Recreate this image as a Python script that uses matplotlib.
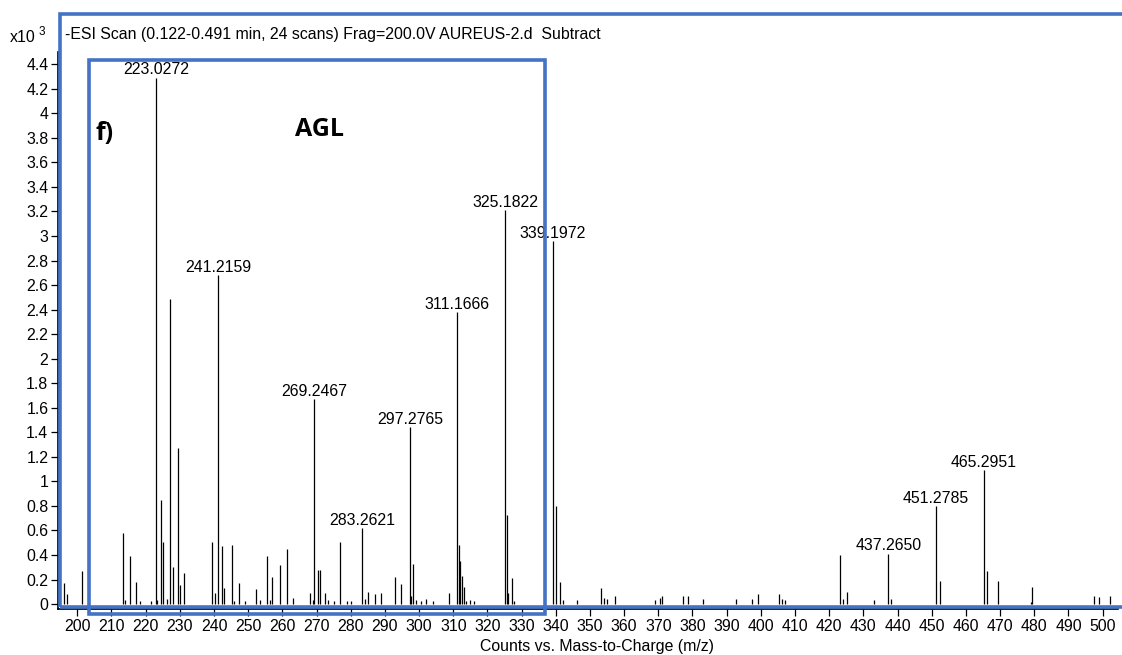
import numpy as np
import matplotlib.pyplot as plt
from matplotlib.patches import Rectangle

plt.rcParams['font.family'] = ['Liberation Sans', 'DejaVu Sans']

# peak list: m/z and abundance (counts x10^3)
mz = [196.1, 196.9, 201.3, 213.3, 214.0, 215.3, 217.1, 218.3, 221.5,
      223.0272, 223.3, 224.4, 225.1, 226.2, 227.2, 228.1, 229.4, 230.1, 231.1,
      239.3, 240.2, 241.2159, 242.2, 242.9, 245.3, 245.9, 247.3, 249.0,
      252.3, 253.4, 255.4, 256.4, 257.1, 259.2, 261.3, 263.0,
      268.0, 268.9, 269.2467, 270.4, 270.9, 272.4, 273.4, 275.1, 277.0, 279.0, 280.0,
      283.2621, 284.3, 285.0, 287.0, 289.0, 293.0, 294.7,
      297.2765, 297.6, 298.1, 299.0, 300.7, 302.0, 304.1, 308.9,
      311.1666, 311.7, 312.1, 312.7, 313.0, 313.7, 314.8, 316.1,
      325.1822, 325.7, 326.1, 327.2, 327.9,
      339.1972, 340.2, 341.2, 342.2, 346.1, 353.2, 354.1, 354.9, 357.2,
      369.1, 370.5, 371.0, 377.1, 378.8, 383.2, 392.8, 397.3, 399.3,
      405.4, 406.2, 407.1, 423.2, 424.1, 425.3, 433.0,
      437.2650, 438.0, 451.2785, 452.3, 465.2951, 466.3, 469.3,
      478.9, 479.2, 497.6, 499.0, 502.3]
abund = [0.17, 0.08, 0.27, 0.58, 0.03, 0.39, 0.18, 0.025, 0.025,
         4.29, 0.03, 0.85, 0.51, 0.04, 2.49, 0.30, 1.27, 0.155, 0.25,
         0.51, 0.09, 2.68, 0.47, 0.13, 0.48, 0.025, 0.17, 0.025,
         0.12, 0.03, 0.39, 0.03, 0.22, 0.32, 0.45, 0.05,
         0.09, 0.03, 1.67, 0.28, 0.28, 0.09, 0.03, 0.025, 0.51, 0.025, 0.025,
         0.62, 0.04, 0.10, 0.08, 0.09, 0.22, 0.16,
         1.44, 0.07, 0.33, 0.03, 0.025, 0.04, 0.025, 0.09,
         2.38, 0.48, 0.35, 0.23, 0.14, 0.025, 0.03, 0.025,
         3.21, 0.73, 0.09, 0.21, 0.025,
         2.96, 0.80, 0.18, 0.035, 0.03, 0.13, 0.05, 0.04, 0.065,
         0.035, 0.05, 0.065, 0.065, 0.065, 0.045, 0.04, 0.045, 0.085,
         0.085, 0.04, 0.035, 0.40, 0.045, 0.10, 0.03,
         0.41, 0.045, 0.80, 0.19, 1.09, 0.27, 0.19,
         0.02, 0.14, 0.065, 0.055, 0.065]

# peaks that carry an m/z label
labelled = [223.0272, 241.2159, 269.2467, 283.2621, 297.2765, 311.1666,
            325.1822, 339.1972, 437.2650, 451.2785, 465.2951]

title = '-ESI Scan (0.122-0.491 min, 24 scans) Frag=200.0V AUREUS-2.d  Subtract'
blue = '#4472C4'
fs = 11.4

W, H = 1122, 655
fig = plt.figure(figsize=(W / 100, H / 100), dpi=100)
ax = fig.add_axes([58 / W, 1 - 609 / H, 1060 / W, 557 / H])

ax.vlines(mz, 0, abund, color='black', lw=0.9)
for m, a in zip(mz, abund):
    if m in labelled:
        ax.annotate(f'{m:.4f}', (m, a), xytext=(0, 0.3), textcoords='offset points',
                    ha='center', va='bottom', fontsize=fs)

ax.set_xlim(194.35, 504.5)
ax.set_ylim(-0.04, 4.5)
ax.set_xticks(np.arange(200, 501, 10))
yt = np.round(np.arange(0, 4.41, 0.2), 1)
ax.set_yticks(yt)
ax.set_yticklabels([f'{v:g}' for v in yt])
ax.tick_params(labelsize=fs, length=5, width=0.9, color='black', pad=2)
for s in ['top', 'right']:
    ax.spines[s].set_visible(False)
for s in ['left', 'bottom']:
    ax.spines[s].set_linewidth(1.2)

fig.text(597 / W, 1 - 647 / H, 'Counts vs. Mass-to-Charge (m/z)', ha='center', va='center',
         fontsize=fs)
fig.text(10 / W, 1 - 37 / H, 'x10', ha='left', va='center', fontsize=fs)
fig.text(39 / W, 1 - 32 / H, '3', ha='left', va='center', fontsize=8.5)
fig.text(65 / W, 1 - 34 / H, title, ha='left', va='center', fontsize=fs)
fig.text(96 / W, 1 - 133 / H, 'f)', ha='left', va='center', fontsize=18,
         fontweight='bold', family=['Open Sans', 'DejaVu Sans'])
fig.text(295 / W, 1 - 130 / H, 'AGL', ha='left', va='center', fontsize=18,
         fontweight='bold', family=['Open Sans', 'DejaVu Sans'])

# outline boxes
def box(x0, y0, x1, y1):
    fig.add_artist(Rectangle((x0 / W, 1 - y1 / H), (x1 - x0) / W, (y1 - y0) / H,
                             fill=False, ec=blue, lw=2.6, transform=fig.transFigure,
                             clip_on=False))

box(60, 14, 1135, 607)
box(89, 60, 545, 614)

fig.savefig('out.png', dpi=100)
